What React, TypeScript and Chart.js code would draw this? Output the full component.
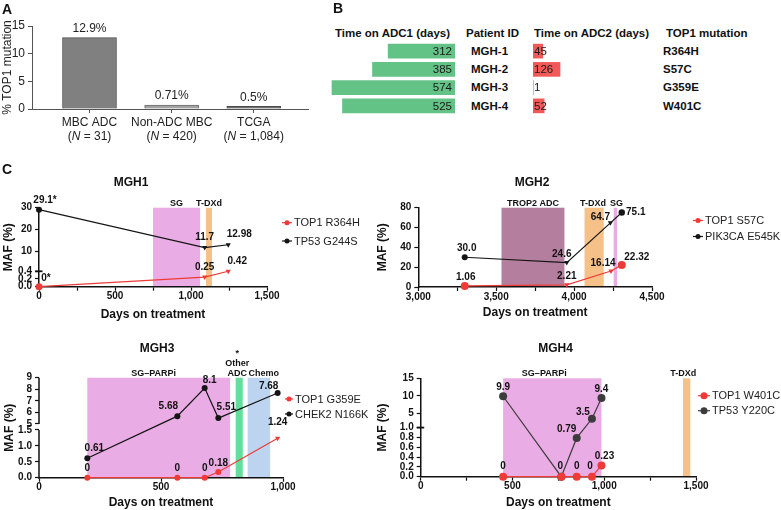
import React, { useEffect, useRef } from 'react';
import { Chart, registerables, LinearScale } from 'chart.js';

const FONT = '"Liberation Sans", Arial, Helvetica, sans-serif';

// ================= DATA =================
// Panel A
const A_CATEGORIES = ['MBC ADC', 'Non-ADC MBC', 'TCGA'];
const A_N = ['31', '420', '1,084'];
const A_VALUES = [12.9, 0.71, 0.5];
const A_VALUE_LABELS = ['12.9%', '0.71%', '0.5%'];
const A_Y_TICKS = [0, 5, 10, 15];

// Panel B
const B_HEADERS = ['Time on ADC1 (days)', 'Patient ID', 'Time on ADC2 (days)', 'TOP1 mutation'];
const B_PATIENTS = ['MGH-1', 'MGH-2', 'MGH-3', 'MGH-4'];
const B_ADC1_DAYS = [312, 385, 574, 525];
const B_ADC2_DAYS = [45, 126, 1, 52];
const B_TOP1_MUTATIONS = ['R364H', 'S57C', 'G359E', 'W401C'];

// Panel C - MGH1
const MGH1_DAYS = [0, 1090, 1245];
const MGH1_TOP1 = [0, 0.25, 0.42];
const MGH1_TOP1_LABELS = ['0*', '0.25', '0.42'];
const MGH1_TP53 = [29.1, 11.7, 12.98];
const MGH1_TP53_LABELS = ['29.1*', '11.7', '12.98'];
const MGH1_TX_NAMES = [['SG'], ['T-DXd']];
const MGH1_TX_START = [750, 1099];
const MGH1_TX_END = [1060, 1138];
const MGH1_X_TICKS = [0, 250, 500, 750, 1000, 1250, 1500];
const MGH1_X_MAJOR = [0, 500, 1000, 1500];
const MGH1_Y_TICKS = [0, 0.2, 0.4, 10, 20, 30];
const MGH1_Y_LABELS = ['0.0', '0.2', '0.4', '10', '20', '30'];

// Panel C - MGH2
const MGH2_TOP1_DAYS = [3298, 3953, 4237, 4306];
const MGH2_TOP1 = [1.06, 2.21, 16.14, 22.32];
const MGH2_TOP1_LABELS = ['1.06', '2.21', '16.14', '22.32'];
const MGH2_PIK3CA_DAYS = [3298, 3953, 4233, 4306];
const MGH2_PIK3CA = [30.0, 24.6, 64.7, 75.1];
const MGH2_PIK3CA_LABELS = ['30.0', '24.6', '64.7', '75.1'];
const MGH2_TX_NAMES = [['TROP2 ADC'], ['T-DXd'], ['SG']];
const MGH2_TX_START = [3534, 4067, 4254];
const MGH2_TX_END = [3938, 4190, 4276];
const MGH2_X_TICKS = [3000, 3250, 3500, 3750, 4000, 4250, 4500];
const MGH2_X_MAJOR = [3000, 3500, 4000, 4500];
const MGH2_Y_TICKS = [0, 20, 40, 60, 80];
const MGH2_Y_LABELS = ['0', '20', '40', '60', '80'];

// Panel C - MGH3
const MGH3_DAYS = [198, 567, 679, 735, 978];
const MGH3_TOP1 = [0, 0, 0, 0.18, 1.24];
const MGH3_TOP1_LABELS = ['0', '0', '0', '0.18', '1.24'];
const MGH3_CHEK2 = [0.61, 5.68, 8.1, 5.51, 7.68];
const MGH3_CHEK2_LABELS = ['0.61', '5.68', '8.1', '5.51', '7.68'];
const MGH3_TX_NAMES = [['SG\u2013PARPi'], ['*', 'Other', 'ADC'], ['Chemo']];
const MGH3_TX_START = [198, 806, 855];
const MGH3_TX_END = [783, 835, 947];
const MGH3_X_TICKS = [0, 500, 1000];
const MGH3_X_MAJOR = [0, 500, 1000];
const MGH3_Y_TICKS = [0, 0.5, 1, 1.5, 5, 6, 7, 8, 9];
const MGH3_Y_LABELS = ['0.0', '0.5', '1.0', '1.5', '5', '6', '7', '8', '9'];

// Panel C - MGH4
const MGH4_DAYS = [449, 766, 850, 933, 985];
const MGH4_TOP1 = [0, 0, 0, 0, 0.23];
const MGH4_TOP1_LABELS = ['0', '', '0', '0', '0.23'];
const MGH4_TP53 = [9.9, 0, 0.79, 3.5, 9.4];
const MGH4_TP53_LABELS = ['9.9', '0', '0.79', '3.5', '9.4'];
const MGH4_TX_NAMES = [['SG\u2013PARPi'], ['T-DXd']];
const MGH4_TX_START = [449, 1429];
const MGH4_TX_END = [985, 1469];
const MGH4_X_TICKS = [0, 250, 500, 750, 1000, 1250, 1500];
const MGH4_X_MAJOR = [0, 500, 1000, 1500];
const MGH4_Y_TICKS = [0, 0.2, 0.4, 0.6, 0.8, 1, 5, 10, 15];
const MGH4_Y_LABELS = ['0.0', '0.2', '0.4', '0.6', '0.8', '1.0', '5', '10', '15'];

// ================= STYLE / LAYOUT =================
const RED = '#ee3b37';
const BLACK = '#151515';
const DARK = '#3c3c3c';
const PINK = '#eaace4';
const ORANGE = '#f5c189';
const MAUVE = '#b47f9e';
const GREEN_TX = '#63de9c';
const BLUE_TX = '#bdd4f1';
const GREEN_BAR = '#63c285';
const RED_BAR = '#f25858';

// broken-axis segment definitions (value range -> fraction of axis height)
const SEGMENTS: Record<string, any[]> = {
  mgh1: [
    { from: 0, to: 0.4, start: 0, end: 0.195 },
    { from: 1, to: 30, start: 0.201, end: 1 },
  ],
  mgh3: [
    { from: 0, to: 1.5, start: 0, end: 0.477 },
    { from: 5, to: 9, start: 0.537, end: 1 },
  ],
  mgh4: [
    { from: 0, to: 1, start: 0, end: 0.499 },
    { from: 1, to: 15, start: 0.499, end: 1 },
  ],
};

class BrokenLinearScale extends LinearScale {
  static id = 'brokenLinear';
  static defaults = LinearScale.defaults;
  segs(): any[] | null {
    const key = (this.options as any).segKey;
    const s = key ? SEGMENTS[key] : null;
    return s && s.length ? s : null;
  }
  toDecimal(v: number): number {
    const self: any = this;
    const segs = this.segs();
    if (!segs) return (v - self._startValue) / self._valueRange;
    for (let i = 0; i < segs.length; i++) {
      const s = segs[i];
      if (v < s.from && i > 0) {
        const p = segs[i - 1];
        return p.end + ((s.start - p.end) * (v - p.to)) / (s.from - p.to);
      }
      if (v <= s.to || i === segs.length - 1) {
        return s.start + ((s.end - s.start) * (v - s.from)) / (s.to - s.from);
      }
    }
    return 0;
  }
  getPixelForValue(value: any) {
    if (value === null || value === undefined || isNaN(value)) return NaN;
    return this.getPixelForDecimal(this.toDecimal(+value));
  }
  getValueForPixel(pixel: number) {
    const self: any = this;
    const d = this.getDecimalForPixel(pixel);
    const segs = this.segs();
    if (!segs) return self._startValue + d * self._valueRange;
    for (let i = 0; i < segs.length; i++) {
      const s = segs[i];
      if (d < s.start && i > 0) {
        const p = segs[i - 1];
        return p.to + ((s.from - p.to) * (d - p.end)) / (s.start - p.end);
      }
      if (d <= s.end || i === segs.length - 1) {
        return s.from + ((s.to - s.from) * (d - s.start)) / (s.end - s.start);
      }
    }
    return 0;
  }
}

Chart.register(...registerables, BrokenLinearScale);

type Box = { left: number; top: number; width: number; height: number };

// ================= PANEL C definitions =================
const PANELS: any[] = [
  {
    key: 'mgh1',
    box: { left: 0, top: 160, width: 372, height: 162 },
    area: { left: 39, top: 207.7, right: 267, bottom: 286.7 },
    title: 'MGH1', titleX: 131, titleY: 183,
    xMin: 0, xMax: 1500, xTicks: MGH1_X_TICKS, xMajor: MGH1_X_MAJOR,
    yMin: 0, yMax: 30, yTicks: MGH1_Y_TICKS, yLabels: MGH1_Y_LABELS,
    segKey: 'mgh1', gapAxis: false, breakAt: 0.4,
    yTitlePad: 1.8, xTitlePad: 0,
    txNames: MGH1_TX_NAMES, txStart: MGH1_TX_START, txEnd: MGH1_TX_END,
    txColors: [PINK, ORANGE], txLabelDx: [0, 0],
    legendX: 282, legendY: [222.7, 241], legendLen: 10, legendR: 2.5,
    series: [
      { name: 'TOP1 R364H', days: MGH1_DAYS, values: MGH1_TOP1, labels: MGH1_TOP1_LABELS, color: RED,
        marks: ['c', 'v', 'v'], radius: [3.5, 3, 3], offs: [[7, -8], [0, -10], [9, -10]] },
      { name: 'TP53 G244S', days: MGH1_DAYS, values: MGH1_TP53, labels: MGH1_TP53_LABELS, color: BLACK,
        marks: ['c', 'v', 'v'], radius: [3, 3, 3], offs: [[6, -9], [0, -10], [11, -10]] },
    ],
  },
  {
    key: 'mgh2',
    box: { left: 372, top: 160, width: 409, height: 162 },
    area: { left: 418.3, top: 207.7, right: 652, bottom: 287 },
    title: 'MGH2', titleX: 532, titleY: 183,
    xMin: 3000, xMax: 4500, xTicks: MGH2_X_TICKS, xMajor: MGH2_X_MAJOR,
    yMin: 0, yMax: 80, yTicks: MGH2_Y_TICKS, yLabels: MGH2_Y_LABELS,
    segKey: null, gapAxis: false, breakAt: null,
    yTitlePad: 3.8, xTitlePad: 2.5,
    txNames: MGH2_TX_NAMES, txStart: MGH2_TX_START, txEnd: MGH2_TX_END,
    txColors: [MAUVE, ORANGE, PINK], txLabelDx: [0, -1, 1],
    legendX: 693, legendY: [220.5, 236.5], legendLen: 10, legendR: 2.5,
    series: [
      { name: 'TOP1 S57C', days: MGH2_TOP1_DAYS, values: MGH2_TOP1, labels: MGH2_TOP1_LABELS, color: RED,
        marks: ['c', 'v', 'v', 'c'], radius: [4, 3, 3, 4], offs: [[1, -9], [0, -9], [-8, -8], [15, -8]] },
      { name: 'PIK3CA E545K', days: MGH2_PIK3CA_DAYS, values: MGH2_PIK3CA, labels: MGH2_PIK3CA_LABELS, color: BLACK,
        marks: ['c', 'v', 'v', 'c'], radius: [3, 3, 3, 3.2], offs: [[2, -9], [-5, -8], [-10, -6], [14, 0]] },
    ],
  },
  {
    key: 'mgh3',
    box: { left: 0, top: 330, width: 372, height: 180 },
    area: { left: 39, top: 377.7, right: 283, bottom: 477.7 },
    title: 'MGH3', titleX: 157, titleY: 349,
    xMin: 0, xMax: 1000, xTicks: MGH3_X_TICKS, xMajor: MGH3_X_MAJOR,
    yMin: 0, yMax: 9, yTicks: MGH3_Y_TICKS, yLabels: MGH3_Y_LABELS,
    segKey: 'mgh3', gapAxis: true, breakAt: null,
    yTitlePad: 2.8, xTitlePad: 0,
    txNames: MGH3_TX_NAMES, txStart: MGH3_TX_START, txEnd: MGH3_TX_END,
    txColors: [PINK, GREEN_TX, BLUE_TX], txLabelDx: [-5, -2, 5],
    legendX: 285, legendY: [399, 414], legendLen: 8, legendR: 2.5,
    series: [
      { name: 'TOP1 G359E', days: MGH3_DAYS, values: MGH3_TOP1, labels: MGH3_TOP1_LABELS, color: RED,
        marks: ['c', 'c', 'c', 'c', 'v'], radius: [3, 3, 3, 3, 3], offs: [[0, -9], [0, -9], [0, -9], [0, -9], [0, -16]] },
      { name: 'CHEK2 N166K', days: MGH3_DAYS, values: MGH3_CHEK2, labels: MGH3_CHEK2_LABELS, color: BLACK,
        marks: ['c', 'c', 'c', 'c', 'c'], radius: [3, 3, 3, 3, 3], offs: [[7, -10], [-9, -10], [5, -8], [8, -11], [-9, -7]] },
    ],
  },
  {
    key: 'mgh4',
    box: { left: 372, top: 330, width: 409, height: 180 },
    area: { left: 420.7, top: 378.3, right: 696, bottom: 476.7 },
    title: 'MGH4', titleX: 555.5, titleY: 349,
    xMin: 0, xMax: 1500, xTicks: MGH4_X_TICKS, xMajor: MGH4_X_MAJOR,
    yMin: 0, yMax: 15, yTicks: MGH4_Y_TICKS, yLabels: MGH4_Y_LABELS,
    segKey: 'mgh4', gapAxis: false, breakAt: 1,
    yTitlePad: 3.8, xTitlePad: 0,
    txNames: MGH4_TX_NAMES, txStart: MGH4_TX_START, txEnd: MGH4_TX_END,
    txColors: [PINK, ORANGE], txLabelDx: [-8, -3.5],
    legendX: 698, legendY: [395.7, 410.7], legendLen: 12, legendR: 3.5,
    series: [
      { name: 'TOP1 W401C', days: MGH4_DAYS, values: MGH4_TOP1, labels: MGH4_TOP1_LABELS, color: RED,
        marks: ['c', 'c', 'c', 'c', 'c'], radius: [4, 4, 4, 4, 4], offs: [[0, -10], [0, 0], [0, -10], [-2, -10], [3, -9]] },
      { name: 'TP53 Y220C', days: MGH4_DAYS, values: MGH4_TP53, labels: MGH4_TP53_LABELS, color: DARK,
        marks: ['c', 'c', 'c', 'c', 'c'], radius: [4, 4, 4, 4, 4], offs: [[0, -9], [-1, -10], [-10, -9], [-9, -7], [0, -9]] },
    ],
  },
];

function line(ctx: any, x0: number, y0: number, x1: number, y1: number) {
  ctx.beginPath();
  ctx.moveTo(x0, y0);
  ctx.lineTo(x1, y1);
  ctx.stroke();
}

function annotPlugin(p: any) {
  const ox = p.box.left;
  const oy = p.box.top;
  return {
    id: 'annot',
    beforeDraw(chart: any) {
      const ctx = chart.ctx;
      const ca = chart.chartArea;
      const xs = chart.scales.x;
      ctx.save();
      p.txStart.forEach((st: number, i: number) => {
        const x0 = xs.getPixelForValue(st);
        const x1 = xs.getPixelForValue(p.txEnd[i]);
        ctx.fillStyle = p.txColors[i];
        ctx.fillRect(x0, ca.top, x1 - x0, ca.bottom - ca.top);
        ctx.fillStyle = '#111';
        ctx.font = `bold 9px ${FONT}`;
        ctx.textAlign = 'center';
        ctx.textBaseline = 'middle';
        const lines = p.txNames[i];
        const cx = (x0 + x1) / 2 + (p.txLabelDx[i] || 0);
        for (let k = 0; k < lines.length; k++) {
          ctx.fillText(lines[lines.length - 1 - k], cx, ca.top - 4.5 - k * 10);
        }
      });
      ctx.restore();
    },
    beforeDatasetsDraw(chart: any) {
      const ctx = chart.ctx;
      const ca = chart.chartArea;
      const ys = chart.scales.y;
      ctx.save();
      ctx.strokeStyle = '#111';
      ctx.lineWidth = 1.5;
      if (p.gapAxis && p.segKey) {
        SEGMENTS[p.segKey].forEach((s: any, i: number) => {
          const y0 = ys.getPixelForValue(s.from) + (i === 0 ? 0.75 : 0);
          const y1 = ys.getPixelForValue(s.to);
          line(ctx, ca.left, y0, ca.left, y1);
        });
      }
      if (p.breakAt !== null && p.breakAt !== undefined) {
        const y = ys.getPixelForValue(p.breakAt);
        ctx.lineWidth = 1.8;
        line(ctx, ca.left - 4, y, ca.left + 3.5, y);
      }
      ctx.restore();
    },
    afterDatasetsDraw(chart: any) {
      const ctx = chart.ctx;
      ctx.save();
      ctx.fillStyle = '#111';
      ctx.font = `bold 10px ${FONT}`;
      ctx.textAlign = 'center';
      ctx.textBaseline = 'middle';
      p.series.forEach((s: any, i: number) => {
        const meta = chart.getDatasetMeta(i);
        meta.data.forEach((el: any, j: number) => {
          const t = s.labels[j];
          if (!t) return;
          const o = s.offs[j];
          ctx.fillText(t, el.x + o[0], el.y + o[1]);
        });
      });
      ctx.restore();
    },
    afterDraw(chart: any) {
      const ctx = chart.ctx;
      ctx.save();
      ctx.fillStyle = '#111';
      ctx.font = `bold 12px ${FONT}`;
      ctx.textAlign = 'center';
      ctx.textBaseline = 'middle';
      ctx.fillText(p.title, p.titleX - ox, p.titleY - oy);
      p.series.forEach((s: any, k: number) => {
        const y = p.legendY[k] - oy;
        const x0 = p.legendX - ox;
        ctx.strokeStyle = s.color;
        ctx.lineWidth = 1.2;
        line(ctx, x0, y, x0 + p.legendLen, y);
        ctx.fillStyle = s.color;
        ctx.beginPath();
        ctx.arc(x0 + p.legendLen / 2, y, p.legendR, 0, Math.PI * 2);
        ctx.fill();
        ctx.fillStyle = '#222';
        ctx.font = `11px ${FONT}`;
        ctx.textAlign = 'left';
        ctx.fillText(s.name, x0 + p.legendLen + 2, y + 0.5);
      });
      ctx.restore();
    },
  };
}

function lineConfig(p: any) {
  const ox = p.box.left;
  const oy = p.box.top;
  const yW = p.area.left - ox;
  const xH = oy + p.box.height - p.area.bottom;
  const tickFont = { family: FONT, size: 10, weight: 'bold' };
  const titleFont = { family: FONT, size: 12, weight: 'bold' };
  return {
    type: 'line',
    data: {
      datasets: p.series.map((s: any) => ({
        label: s.name,
        data: s.days.map((d: number, j: number) => ({ x: d, y: s.values[j] })),
        borderColor: s.color,
        backgroundColor: s.color,
        pointBackgroundColor: s.color,
        pointBorderColor: s.color,
        pointBorderWidth: 0,
        borderWidth: 1.2,
        pointStyle: s.marks.map((m: string) => (m === 'v' ? 'triangle' : 'circle')),
        rotation: s.marks.map((m: string) => (m === 'v' ? 180 : 0)),
        pointRadius: s.radius,
        tension: 0,
        clip: false,
      })),
    },
    plugins: [annotPlugin(p)],
    options: {
      responsive: false,
      animation: false,
      events: [],
      layout: { padding: { left: 0, top: p.area.top - oy, right: ox + p.box.width - p.area.right, bottom: 0 } },
      plugins: { legend: { display: false }, tooltip: { enabled: false }, title: { display: false } },
      scales: {
        x: {
          type: 'linear', min: p.xMin, max: p.xMax, bounds: 'data',
          afterBuildTicks: (sc: any) => { sc.ticks = p.xTicks.map((v: number) => ({ value: v })); },
          afterFit: (sc: any) => { sc.height = xH; },
          ticks: {
            autoSkip: false, maxRotation: 0, padding: 0, color: '#111', font: tickFont,
            callback: (v: number) => (p.xMajor.indexOf(v) >= 0 ? v.toLocaleString('en-US') : ''),
          },
          grid: { drawOnChartArea: false, drawTicks: true, tickLength: 4, tickColor: '#111', tickWidth: 1.2 },
          border: { display: true, color: '#111', width: 1.5 },
          title: { display: true, text: 'Days on treatment', color: '#111', font: titleFont, padding: { top: 0, bottom: p.xTitlePad } },
        },
        y: {
          type: p.segKey ? 'brokenLinear' : 'linear', segKey: p.segKey,
          min: p.yMin, max: p.yMax, bounds: 'data',
          afterBuildTicks: (sc: any) => { sc.ticks = p.yTicks.map((v: number) => ({ value: v })); },
          afterFit: (sc: any) => { sc.width = yW; },
          ticks: {
            autoSkip: false, padding: 3, color: '#111', font: tickFont,
            callback: (_v: number, i: number) => p.yLabels[i],
          },
          grid: { drawOnChartArea: false, drawTicks: true, tickLength: 4, tickColor: '#111', tickWidth: 1.2 },
          border: { display: !p.gapAxis, color: '#111', width: 1.5 },
          title: { display: true, text: 'MAF (%)', color: '#111', font: titleFont, padding: { top: p.yTitlePad, bottom: 0 } },
        },
      },
    },
  };
}

// ================= PANEL A =================
const A_BOX: Box = { left: 0, top: 0, width: 320, height: 150 };

const panelAPlugin = {
  id: 'panelA',
  afterDatasetsDraw(chart: any) {
    const ctx = chart.ctx;
    const meta = chart.getDatasetMeta(0);
    const xs = chart.scales.x;
    const base = chart.chartArea.bottom;
    ctx.save();
    ctx.fillStyle = '#222';
    ctx.textAlign = 'left';
    ctx.textBaseline = 'middle';
    const normal = `12px ${FONT}`;
    const italic = `italic 12px ${FONT}`;
    meta.data.forEach((el: any, i: number) => {
      ctx.font = normal;
      const t = A_VALUE_LABELS[i];
      const w = ctx.measureText(t).width;
      ctx.fillText(t, el.x - w / 2, el.y - 9);
    });
    A_CATEGORIES.forEach((c: string, i: number) => {
      const x = xs.getPixelForValue(i);
      ctx.font = normal;
      const w1 = ctx.measureText(c).width;
      ctx.fillText(c, x - w1 / 2, base + 14);
      const parts: [string, string][] = [['(', normal], ['N', italic], [` = ${A_N[i]})`, normal]];
      let total = 0;
      const ws = parts.map(([t, f]) => { ctx.font = f; const w = ctx.measureText(t).width; total += w; return w; });
      let cx = x - total / 2;
      parts.forEach(([t, f], k) => { ctx.font = f; ctx.fillText(t, cx, base + 28); cx += ws[k]; });
    });
    ctx.restore();
  },
};

function panelAConfig() {
  return {
    type: 'bar',
    data: {
      datasets: [{
        data: A_VALUES.map((v, i) => ({ x: i, y: v })),
        backgroundColor: ['#808080', '#a3a3a3', '#737373'],
        borderColor: ['#4f4f4f', '#6c6c6c', '#4a4a4a'],
        borderWidth: 1,
        barThickness: 54,
      }],
    },
    plugins: [panelAPlugin],
    options: {
      responsive: false,
      animation: false,
      events: [],
      layout: { padding: { left: 0, top: 26, right: 12, bottom: 0 } },
      plugins: { legend: { display: false }, tooltip: { enabled: false } },
      scales: {
        x: {
          type: 'linear', min: -0.7, max: 2.66, offset: false, bounds: 'data',
          afterBuildTicks: (s: any) => { s.ticks = A_CATEGORIES.map((_c, i) => ({ value: i })); },
          afterFit: (s: any) => { s.height = A_BOX.height - 109; },
          ticks: { autoSkip: false, callback: () => '' },
          grid: { offset: false, drawOnChartArea: false, tickLength: 4, tickColor: '#555', tickWidth: 1 },
          border: { color: '#555', width: 1 },
        },
        y: {
          type: 'linear', min: 0, max: 15, bounds: 'data',
          afterBuildTicks: (s: any) => { s.ticks = A_Y_TICKS.map((v) => ({ value: v })); },
          afterFit: (s: any) => { s.width = 32; },
          ticks: { autoSkip: false, color: '#222', font: { family: FONT, size: 12 }, padding: 3 },
          grid: { drawOnChartArea: false, tickLength: 4, tickColor: '#555', tickWidth: 1 },
          border: { color: '#555', width: 1 },
          title: { display: true, text: '% TOP1 mutation', color: '#222', font: { family: FONT, size: 12 }, padding: { top: 0, bottom: 0 } },
        },
      },
    },
  };
}

// ================= PANEL B =================
const B_LEFT_BOX: Box = { left: 325, top: 42, width: 130, height: 73 };
const B_RIGHT_BOX: Box = { left: 533, top: 42, width: 100, height: 73 };
const PX_PER_DAY = 0.2143;

function barValuePlugin(side: 'left' | 'right', values: number[]) {
  return {
    id: 'barValues',
    afterDatasetsDraw(chart: any) {
      const ctx = chart.ctx;
      const meta = chart.getDatasetMeta(0);
      ctx.save();
      ctx.fillStyle = '#1a1a1a';
      ctx.font = `11.5px ${FONT}`;
      ctx.textBaseline = 'middle';
      ctx.textAlign = side === 'left' ? 'right' : 'left';
      meta.data.forEach((el: any, i: number) => {
        const x = side === 'left' ? el.base - 3 : el.base + 1;
        ctx.fillText(String(values[i]), x, el.y + 0.5);
      });
      ctx.restore();
    },
  };
}

function panelBConfig(values: number[], color: string, box: Box, side: 'left' | 'right') {
  return {
    type: 'bar',
    data: {
      labels: B_PATIENTS,
      datasets: [{ data: values, backgroundColor: color, borderWidth: 0, barThickness: 14 }],
    },
    plugins: [barValuePlugin(side, values)],
    options: {
      indexAxis: 'y',
      responsive: false,
      animation: false,
      events: [],
      layout: { padding: 0 },
      plugins: { legend: { display: false }, tooltip: { enabled: false } },
      scales: {
        x: { display: false, min: 0, max: box.width / PX_PER_DAY, reverse: side === 'left' },
        y: { display: false },
      },
    },
  };
}

// ================= COMPONENTS =================
function ChartCanvas({ box, make }: { box: Box; make: () => any }) {
  const ref = useRef<HTMLCanvasElement>(null);
  useEffect(() => {
    const chart = new Chart(ref.current as HTMLCanvasElement, make());
    return () => chart.destroy();
  }, []);
  return (
    <canvas
      ref={ref}
      width={box.width}
      height={box.height}
      style={{ position: 'absolute', left: box.left, top: box.top, width: box.width, height: box.height }}
    />
  );
}

function T({ x, y, text, size, bold, align }: { x: number; y: number; text: string; size: number; bold?: boolean; align?: string }) {
  const tx = align === 'center' ? '-50%' : align === 'right' ? '-100%' : '0';
  return (
    <div
      style={{
        position: 'absolute', left: x, top: y, transform: `translate(${tx}, -50%)`,
        fontSize: size, fontWeight: bold ? 700 : 400, lineHeight: 1, whiteSpace: 'nowrap', color: '#111',
      }}
    >
      {text}
    </div>
  );
}

const B_ROW_Y = [51.7, 70, 88.3, 106.7];

export default function App() {
  return (
    <div style={{ position: 'absolute', left: 0, top: 0, width: 781, height: 510, background: '#fff', overflow: 'hidden', fontFamily: FONT }}>
      <ChartCanvas box={A_BOX} make={panelAConfig} />
      <ChartCanvas box={B_LEFT_BOX} make={() => panelBConfig(B_ADC1_DAYS, GREEN_BAR, B_LEFT_BOX, 'left')} />
      <ChartCanvas box={B_RIGHT_BOX} make={() => panelBConfig(B_ADC2_DAYS, RED_BAR, B_RIGHT_BOX, 'right')} />
      {PANELS.map((p) => (
        <ChartCanvas key={p.key} box={p.box} make={() => lineConfig(p)} />
      ))}

      <T x={2} y={9} text="A" size={14} bold />
      <T x={333} y={8} text="B" size={14} bold />
      <T x={2} y={169} text="C" size={14} bold />

      <T x={335} y={34} text={B_HEADERS[0]} size={11.5} bold />
      <T x={466} y={34} text={B_HEADERS[1]} size={11.5} bold />
      <T x={534} y={34} text={B_HEADERS[2]} size={11.5} bold />
      <T x={666} y={34} text={B_HEADERS[3]} size={11.5} bold />
      {B_PATIENTS.map((id, i) => (
        <T key={id} x={489.5} y={B_ROW_Y[i]} text={id} size={11.5} bold align="center" />
      ))}
      {B_TOP1_MUTATIONS.map((m, i) => (
        <T key={m} x={663} y={B_ROW_Y[i]} text={m} size={11.5} bold />
      ))}
    </div>
  );
}
